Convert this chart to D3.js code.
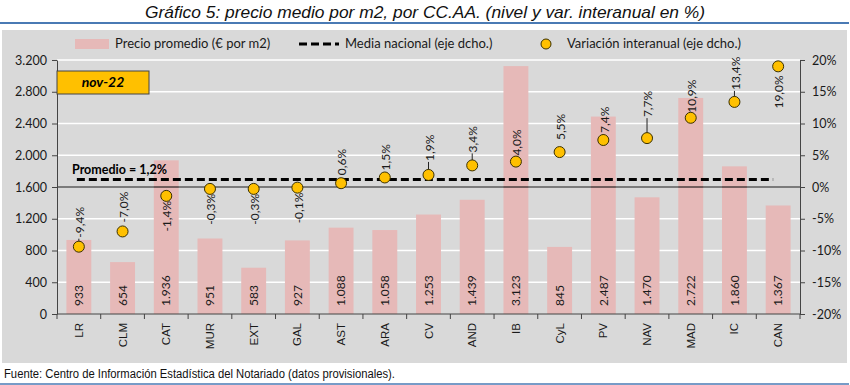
<!DOCTYPE html>
<html><head><meta charset="utf-8">
<script src="https://cdn.jsdelivr.net/npm/d3@7"></script>
<style>
html,body{margin:0;padding:0;background:#fff;}
svg{display:block;}
</style></head>
<body>
<svg id="chart" width="850" height="385"></svg>
<script>
// ---- data ----
const categories = ["LR","CLM","CAT","MUR","EXT","GAL","AST","ARA","CV","AND","IB","CyL","PV","NAV","MAD","IC","CAN"];
const precio = [933,654,1936,951,583,927,1088,1058,1253,1439,3123,845,2487,1470,2722,1860,1367];
const variacion = [-9.4,-7.0,-1.4,-0.3,-0.3,-0.1,0.6,1.5,1.9,3.4,4.0,5.5,7.4,7.7,10.9,13.4,19.0];
const mediaNacional = 1.2;
const leftTicks = [0,400,800,1200,1600,2000,2400,2800,3200];
const rightTicks = [-20,-15,-10,-5,0,5,10,15,20];
const periodo = "nov-22";
// label placement (layout only): side and gap from point, leader line flag
const labelSide = ["a","a","b","b","b","b","a","a","a","a","a","a","a","a","a","a","b"];
const labelGap  = [9,9,5,5,5,5,8,7,14,13,6,12,7,21,5,12,9];
const labelLeader = [1,0,0,0,0,0,0,0,1,1,0,0,1,1,0,1,0];

const loc = d3.formatLocale({decimal:",",thousands:".",grouping:[3],currency:["","€"],minus:"-"});
const fmtInt = loc.format(",d");
const fmtPct = v => loc.format(".1f")(v) + "%";

const svg = d3.select("#chart");
const W=850,H=385;
const L=57,R=800,T=60,B=314;
const fTick = "Lato, 'Open Sans', sans-serif";
const fArial = "'Liberation Sans', Arial, sans-serif";
const fNarrow = "'Liberation Sans Narrow','Arial Narrow','Liberation Sans',sans-serif";

// title
svg.append("text").attr("x",425).attr("y",18).attr("text-anchor","middle")
  .attr("font-family",fNarrow).attr("font-style","italic").attr("font-size",17)
  .attr("textLength",560).attr("lengthAdjust","spacingAndGlyphs").attr("fill","#111")
  .text("Gráfico 5: precio medio por m2, por CC.AA. (nivel y var. interanual en %)");
svg.append("line").attr("x1",0).attr("x2",849).attr("y1",23).attr("y2",23)
  .attr("stroke","#4a7ab4").attr("stroke-width",2);

// panel
svg.append("rect").attr("x",2).attr("y",30).attr("width",845).attr("height",333).attr("fill","#d9d9d9");

// footer
svg.append("text").attr("x",4).attr("y",378).attr("font-family",fNarrow).attr("font-size",12.5)
  .attr("textLength",391).attr("lengthAdjust","spacingAndGlyphs").attr("fill","#111")
  .text("Fuente: Centro de Información Estadística del Notariado (datos provisionales).");
svg.append("line").attr("x1",0).attr("x2",849).attr("y1",384).attr("y2",384)
  .attr("stroke","#4a7ab4").attr("stroke-width",1.5);

// scales
const x = d3.scaleBand().domain(categories).range([L,R]).padding(0);
const yL = d3.scaleLinear().domain([0,3200]).range([B,T]);
const yR = d3.scaleLinear().domain([-20,20]).range([B,T]);
const bw = x.bandwidth()*0.57;
const cx = c => x(c)+x.bandwidth()/2;

// gridlines
svg.append("g").selectAll("line").data(leftTicks.filter(t=>t>0)).join("line")
  .attr("x1",L).attr("x2",R).attr("y1",d=>yL(d)).attr("y2",d=>yL(d))
  .attr("stroke","#fff").attr("stroke-width",1.5);

// bars
svg.append("g").selectAll("rect").data(categories).join("rect")
  .attr("x",(c)=>cx(c)-bw/2).attr("width",bw)
  .attr("y",(c,i)=>yL(precio[i])).attr("height",(c,i)=>yL(0)-yL(precio[i]))
  .attr("fill","#e6b9b8");

// bar labels
svg.append("g").selectAll("text").data(categories).join("text")
  .attr("transform",(c)=>`translate(${cx(c)},306) rotate(-90)`)
  .attr("dy","0.35em").attr("text-anchor","start")
  .attr("font-family",fTick).attr("font-size",12).attr("fill","#1a1a1a")
  .text((c,i)=>fmtInt(precio[i]));

// zero line (0% right axis)
svg.append("line").attr("x1",L).attr("x2",R).attr("y1",yR(0)).attr("y2",yR(0))
  .attr("stroke","#000").attr("stroke-width",1);

// left axis
const axL = svg.append("g").attr("transform",`translate(${L},0)`)
  .call(d3.axisLeft(yL).tickValues(leftTicks).tickSize(5).tickSizeOuter(0).tickFormat(fmtInt));
axL.select(".domain").attr("stroke","#444");
axL.selectAll(".tick line").attr("stroke","#444");
axL.selectAll("text").attr("font-family",fTick).attr("font-size",12.5).attr("fill","#1a1a1a").attr("x",-10);

// right axis
const axR = svg.append("g").attr("transform",`translate(${R},0)`)
  .call(d3.axisRight(yR).tickValues(rightTicks).tickSize(5).tickSizeOuter(0).tickFormat(d=>loc.format("d")(d)+"%"));
axR.select(".domain").attr("stroke","#444");
axR.selectAll(".tick line").attr("stroke","#444");
axR.selectAll("text").attr("font-family",fTick).attr("font-size",12.5).attr("fill","#1a1a1a").attr("x",12);

// bottom axis
const axB = svg.append("g").attr("transform",`translate(0,${B})`);
axB.append("line").attr("x1",L).attr("x2",R).attr("stroke","#444");
axB.selectAll("line.tk").data(d3.range(categories.length+1)).join("line").attr("class","tk")
  .attr("x1",i=>L+i*x.step()).attr("x2",i=>L+i*x.step()).attr("y1",0).attr("y2",5).attr("stroke","#444");
axB.selectAll("text").data(categories).join("text")
  .attr("transform",c=>`translate(${cx(c)},9) rotate(-90)`)
  .attr("dy","0.35em").attr("text-anchor","end")
  .attr("font-family",fArial).attr("font-size",11.5).attr("fill","#1a1a1a")
  .text(c=>c);

// mean line
svg.append("line").attr("x1",cx(categories[0])-2).attr("x2",cx(categories[categories.length-1])-5)
  .attr("y1",yR(mediaNacional)).attr("y2",yR(mediaNacional))
  .attr("stroke","#000").attr("stroke-width",3).attr("stroke-dasharray","8,4");
svg.append("text").attr("x",72).attr("y",174).attr("font-family",fTick).attr("font-weight","bold")
  .attr("font-size",12.5).attr("fill","#000").text("Promedio = " + loc.format(".1f")(mediaNacional) + "%");

// leader lines
svg.append("g").selectAll("line").data(categories.filter((c,i)=>labelLeader[i])).join("line")
  .each(function(c){
    const i = categories.indexOf(c);
    const py = yR(variacion[i]);
    d3.select(this).attr("x1",cx(c)).attr("x2",cx(c)).attr("y1",py-5).attr("y2",py-labelGap[i]+1)
      .attr("stroke","#222").attr("stroke-width",1);
  });

// points
svg.append("g").selectAll("circle").data(categories).join("circle")
  .attr("cx",c=>cx(c)).attr("cy",(c,i)=>yR(variacion[i])).attr("r",5.5)
  .attr("fill","#ffc000").attr("stroke","#3a3000").attr("stroke-width",1);

// point labels
svg.append("g").selectAll("text").data(categories).join("text")
  .attr("transform",(c,i)=>{
    const py = yR(variacion[i]);
    const y = labelSide[i]==="a" ? py-labelGap[i] : py+labelGap[i];
    return `translate(${cx(c)+1},${y}) rotate(-90)`;
  })
  .attr("dy","0.35em").attr("text-anchor",(c,i)=>labelSide[i]==="a"?"start":"end")
  .attr("font-family",fTick).attr("font-size",12).attr("fill","#1a1a1a")
  .text((c,i)=>fmtPct(variacion[i]));

// nov-22 box
svg.append("rect").attr("x",L).attr("y",71).attr("width",92).attr("height",23)
  .attr("fill","#ffc000").attr("stroke","#444").attr("stroke-width",1);
svg.append("text").attr("x",L+46).attr("y",87).attr("text-anchor","middle")
  .attr("font-family",fTick).attr("font-weight","bold").attr("font-style","italic").attr("font-size",14)
  .attr("fill","#000").text(periodo);

// legend
const lg = svg.append("g");
lg.append("rect").attr("x",75).attr("y",39).attr("width",34).attr("height",10).attr("fill","#e6b9b8");
lg.append("text").attr("x",115).attr("y",48).attr("font-family",fTick).attr("font-size",13).attr("fill","#1a1a1a")
  .text("Precio promedio (€ por m2)");
lg.append("line").attr("x1",299).attr("x2",339).attr("y1",44).attr("y2",44)
  .attr("stroke","#000").attr("stroke-width",3).attr("stroke-dasharray","8,4");
lg.append("text").attr("x",345).attr("y",48).attr("font-family",fTick).attr("font-size",13).attr("fill","#1a1a1a")
  .text("Media nacional (eje dcho.)");
lg.append("circle").attr("cx",546).attr("cy",44).attr("r",5).attr("fill","#ffc000").attr("stroke","#3a3000");
lg.append("text").attr("x",567).attr("y",48).attr("font-family",fTick).attr("font-size",13).attr("fill","#1a1a1a")
  .text("Variación interanual (eje dcho.)");
</script>
</body></html>
